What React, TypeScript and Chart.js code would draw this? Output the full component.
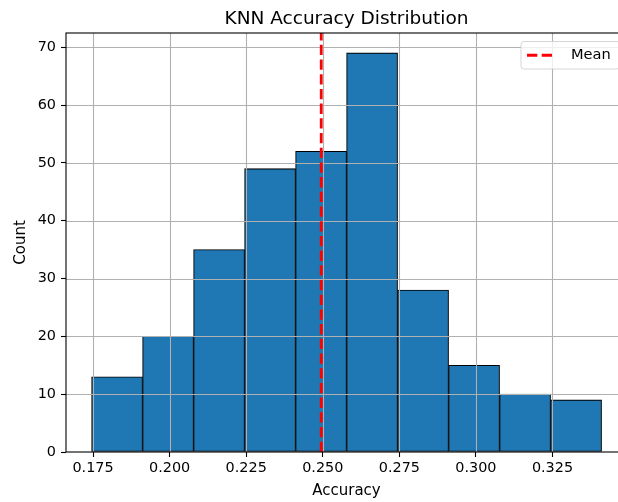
import React, { useEffect, useRef } from "react";
import { Chart, registerables } from "chart.js";

Chart.register(...registerables);

// Histogram bin edges (Accuracy) and counts
const binEdges = [0.1745, 0.1912, 0.2078, 0.2245, 0.2411, 0.2578, 0.2744, 0.2911, 0.3077, 0.3244, 0.341];
const counts = [13, 20, 35, 49, 52, 69, 28, 15, 10, 9];
const meanValue = 0.2495;
const xTicks = [0.175, 0.2, 0.225, 0.25, 0.275, 0.3, 0.325];
const yTicks = [0, 10, 20, 30, 40, 50, 60, 70];
const titleText = "KNN Accuracy Distribution";
const xLabel = "Accuracy";
const yLabel = "Count";
const legendLabel = "Mean";

const FONT = '"DejaVu Sans", sans-serif';

export default function App() {
  const ref = useRef<HTMLCanvasElement | null>(null);

  useEffect(() => {
    const canvas = ref.current;
    if (!canvas) return;
    const span = binEdges[binEdges.length - 1] - binEdges[0];
    const xMin = binEdges[0] - span * 0.05;
    const xMax = binEdges[binEdges.length - 1] + span * 0.05;
    const yMax = Math.max(...counts) * 1.05;

    const bars = counts.map((c, i) => ({ x: (binEdges[i] + binEdges[i + 1]) / 2, y: c }));

    const overlay = {
      id: "overlay",
      afterDatasetDraw(chart: any, args: any) {
        if (args.index !== 1) return;
        const { ctx, chartArea } = chart;
        const xs = chart.scales.x;
        const ys = chart.scales.y;
        ctx.save();
        ctx.beginPath();
        ctx.rect(chartArea.left, chartArea.top, chartArea.right - chartArea.left, chartArea.bottom - chartArea.top);
        ctx.clip();
        ctx.strokeStyle = "#b0b0b0";
        ctx.lineWidth = 1.1;
        xTicks.forEach((v) => {
          const px = Math.round(xs.getPixelForValue(v)) + 0.5;
          ctx.beginPath();
          ctx.moveTo(px, chartArea.top);
          ctx.lineTo(px, chartArea.bottom);
          ctx.stroke();
        });
        yTicks.forEach((v) => {
          const py = Math.round(ys.getPixelForValue(v)) + 0.5;
          ctx.beginPath();
          ctx.moveTo(chartArea.left, py);
          ctx.lineTo(chartArea.right, py);
          ctx.stroke();
        });
        ctx.restore();
      },
      afterDraw(chart: any) {
        const { ctx, chartArea } = chart;
        ctx.save();
        // spines
        ctx.strokeStyle = "#000";
        ctx.lineWidth = 1.1;
        ctx.strokeRect(chartArea.left, chartArea.top, chartArea.right - chartArea.left, chartArea.bottom - chartArea.top);
        // title
        ctx.fillStyle = "#000";
        ctx.font = `18.5px ${FONT}`;
        ctx.textAlign = "center";
        ctx.textBaseline = "alphabetic";
        ctx.fillText(titleText, (chartArea.left + chartArea.right) / 2, 23.5);
        // x label
        ctx.font = `15px ${FONT}`;
        ctx.fillText(xLabel, (chartArea.left + chartArea.right) / 2, 494.5);
        // y label
        ctx.save();
        ctx.translate(24.5, (chartArea.top + chartArea.bottom) / 2);
        ctx.rotate(-Math.PI / 2);
        ctx.fillText(yLabel, 0, 0);
        ctx.restore();
        // legend
        const lx = chartArea.right - 106;
        const ly = chartArea.top + 8.5;
        const lw = 99;
        const lh = 27.5;
        ctx.beginPath();
        ctx.roundRect(lx, ly, lw, lh, 3);
        ctx.fillStyle = "rgba(255,255,255,0.8)";
        ctx.fill();
        ctx.strokeStyle = "rgba(204,204,204,0.8)";
        ctx.lineWidth = 1;
        ctx.stroke();
        ctx.beginPath();
        ctx.setLineDash([10.3, 4.4]);
        ctx.strokeStyle = "red";
        ctx.lineWidth = 2.8;
        ctx.moveTo(lx + 6, ly + lh / 2);
        ctx.lineTo(lx + 34, ly + lh / 2);
        ctx.stroke();
        ctx.setLineDash([]);
        ctx.fillStyle = "#000";
        ctx.font = `14.6px ${FONT}`;
        ctx.textAlign = "left";
        ctx.textBaseline = "middle";
        ctx.fillText(legendLabel, lx + 50, ly + lh / 2);
        ctx.restore();
      },
    };

    const chart = new Chart(canvas, {
      type: "bar",
      data: {
        datasets: [
          {
            type: "line",
            label: legendLabel,
            data: [
              { x: meanValue, y: 0 },
              { x: meanValue, y: yMax },
            ],
            borderColor: "red",
            borderWidth: 2.8,
            borderDash: [10.3, 4.4],
            pointRadius: 0,
            fill: false,
          } as any,
          {
            type: "bar",
            label: "Accuracy",
            data: bars,
            backgroundColor: "#1f77b4",
            borderColor: "#000",
            borderWidth: 1.1,
            borderSkipped: false,
            barPercentage: 1,
            categoryPercentage: 1,
          } as any,
        ],
      },
      options: {
        responsive: false,
        animation: false,
        devicePixelRatio: 1,
        layout: { padding: { left: 0, right: 13, top: 33, bottom: 0 } },
        plugins: { legend: { display: false }, tooltip: { enabled: false }, title: { display: false } },
        scales: {
          x: {
            type: "linear",
            min: xMin,
            max: xMax,
            offset: false,
            afterFit: (s: any) => {
              s.height = 50;
            },
            afterBuildTicks: (s: any) => {
              s.ticks = xTicks.map((v) => ({ value: v }));
            },
            ticks: {
              autoSkip: false,
              maxRotation: 0,
              padding: 3,
              color: "#000",
              font: { family: FONT, size: 14.4 },
              callback: (v: any) => Number(v).toFixed(3),
            },
            grid: { drawOnChartArea: false, drawTicks: true, tickLength: 5, tickColor: "#000", tickWidth: 1.1, offset: false },
            border: { display: false },
          },
          y: {
            type: "linear",
            min: 0,
            max: yMax,
            afterFit: (s: any) => {
              s.width = 66;
            },
            afterBuildTicks: (s: any) => {
              s.ticks = yTicks.map((v) => ({ value: v }));
            },
            ticks: {
              autoSkip: false,
              padding: 5,
              color: "#000",
              font: { family: FONT, size: 14.4 },
              callback: (v: any) => String(v),
            },
            grid: { drawOnChartArea: false, drawTicks: true, tickLength: 5, tickColor: "#000", tickWidth: 1.1 },
            border: { display: false },
          },
        },
      } as any,
      plugins: [overlay],
    });
    return () => chart.destroy();
  }, []);

  return (
    <div style={{ position: "fixed", left: 0, top: 0, width: 618, height: 502, overflow: "hidden", background: "#fff" }}>
      <canvas ref={ref} width={640} height={502} style={{ width: 640, height: 502, display: "block" }} />
    </div>
  );
}
